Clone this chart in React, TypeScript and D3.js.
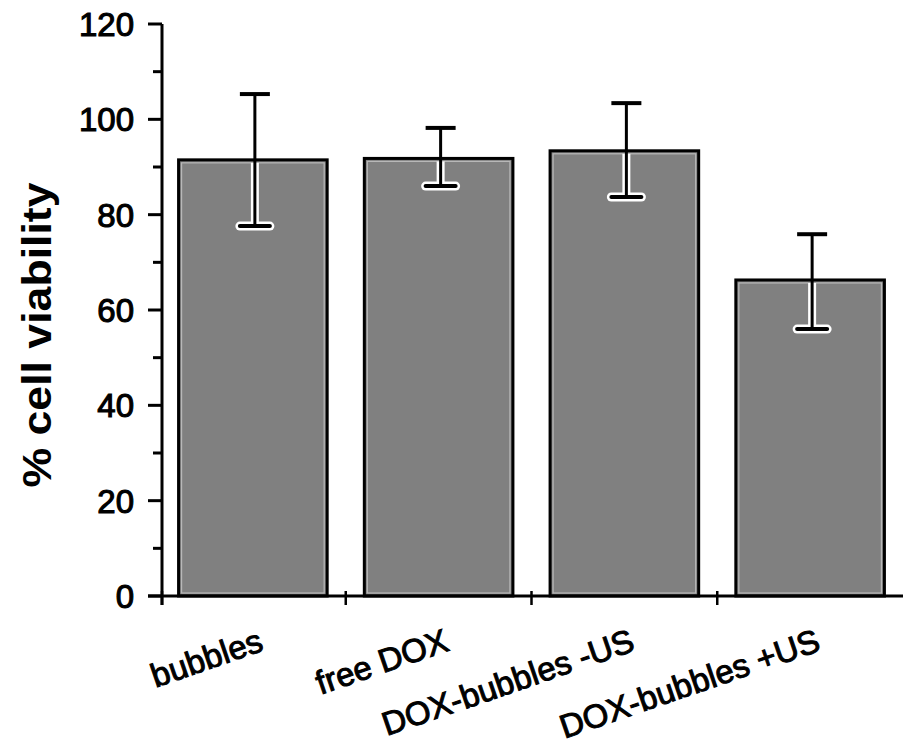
import React from "react";
import * as d3 from "d3";

const categories = ["bubbles", "free DOX", "DOX-bubbles -US", "DOX-bubbles +US"];
const means = [91.5, 91.8, 93.4, 66.3];
const errHigh = [105.3, 98.2, 103.4, 75.9];
const errLow = [77.6, 86.0, 83.7, 56.0];
const yMajorTicks = [0, 20, 40, 60, 80, 100, 120];
const yMinorTicks = [10, 30, 50, 70, 90, 110];
const yLabel = "% cell viability";

const W = 904;
const H = 749;

export default function App() {
  const y = d3.scaleLinear().domain([0, 120]).range([596, 24]);
  const x = d3.scaleBand<string>().domain(categories).range([160, 903]).padding(0);
  const bw = x.bandwidth();
  const barW = bw * 0.8;
  const font = "'Liberation Sans', Arial, sans-serif";
  const capW = 30;

  return (
    <svg width={W} height={H} style={{ position: "absolute", left: 0, top: 0, background: "#fff" }}>
      <rect x={0} y={0} width={W} height={H} fill="#fff" />
      {/* bars */}
      {categories.map((c, i) => {
        const x0 = (x(c) as number) + (bw - barW) / 2;
        const yt = y(means[i]);
        const yb = y(0);
        return (
          <g key={c}>
            <rect x={x0} y={yt} width={barW} height={yb - yt} fill="#808080" stroke="#000" strokeWidth={3} />
            <rect x={x0 + 3} y={yt + 3} width={barW - 6} height={yb - yt - 6} fill="none" stroke="#b8b8b8" strokeWidth={1.2} />
          </g>
        );
      })}
      {/* error bars */}
      {categories.map((c, i) => {
        const cx = (x(c) as number) + bw / 2 + 2;
        const yt = y(means[i]);
        const yh = y(errHigh[i]);
        const yl = y(errLow[i]);
        return (
          <g key={c + "e"}>
            <line x1={cx} x2={cx} y1={yt + 3} y2={yl} stroke="#fff" strokeWidth={8} />
            <line x1={cx - capW / 2} x2={cx + capW / 2} y1={yl} y2={yl} stroke="#fff" strokeWidth={9} strokeLinecap="round" />
            <line x1={cx} x2={cx} y1={yh} y2={yl} stroke="#000" strokeWidth={3} />
            <line x1={cx - capW / 2} x2={cx + capW / 2} y1={yh} y2={yh} stroke="#000" strokeWidth={4} />
            <line x1={cx - capW / 2} x2={cx + capW / 2} y1={yl} y2={yl} stroke="#000" strokeWidth={4} strokeLinecap="round" />
          </g>
        );
      })}
      {/* y axis */}
      <line x1={162} x2={162} y1={y(120)} y2={y(0) + 9} stroke="#000" strokeWidth={3} />
      {yMajorTicks.map((t) => (
        <g key={"M" + t}>
          <line x1={148} x2={162} y1={y(t)} y2={y(t)} stroke="#000" strokeWidth={3} />
          <text x={134} y={y(t)} dy="0.36em" textAnchor="end" fontFamily={font} fontSize={33} fill="#000" stroke="#000" strokeWidth={1.1}>
            {t}
          </text>
        </g>
      ))}
      {yMinorTicks.map((t) => (
        <line key={"m" + t} x1={153} x2={162} y1={y(t)} y2={y(t)} stroke="#000" strokeWidth={3} />
      ))}
      {/* x axis */}
      <line x1={148} x2={903} y1={y(0)} y2={y(0)} stroke="#000" strokeWidth={3} />
      {categories.map((c, i) => {
        const tx = i === 0 ? 162 : (x(c) as number);
        return <line key={"xt" + c} x1={tx} x2={tx} y1={y(0) - 5} y2={y(0) + 9} stroke="#000" strokeWidth={2.5} />;
      })}
      {categories.map((c) => {
        const tx = (x(c) as number) + bw / 2 + 12;
        const ty = 650;
        return (
          <text
            key={"lbl" + c}
            x={tx}
            y={ty}
            textAnchor="end"
            transform={`rotate(-19, ${tx}, ${ty})`}
            fontFamily={font}
            fontSize={33}
            fill="#000"
            stroke="#000"
            strokeWidth={1}
          >
            {c}
          </text>
        );
      })}
      {/* y label */}
      <text
        x={0}
        y={0}
        transform={`translate(51, 335) rotate(-90)`}
        textAnchor="middle"
        fontFamily={font}
        fontSize={40}
        fontWeight="bold"
        textLength={305}
        lengthAdjust="spacingAndGlyphs"
        fill="#000"
      >
        {yLabel}
      </text>
    </svg>
  );
}
